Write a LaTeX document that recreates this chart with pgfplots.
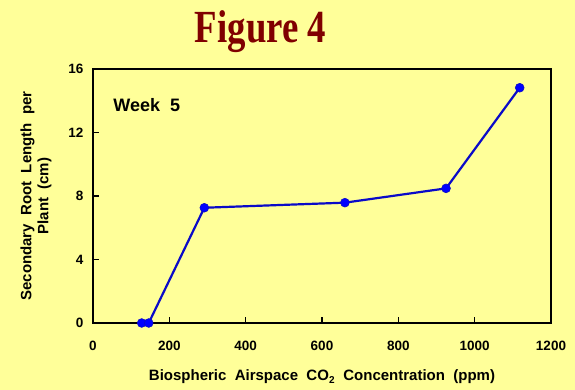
\documentclass[border=0pt]{standalone}
\usepackage{graphicx}
\usepackage{pgfplots}
\pgfplotsset{compat=1.18}
\usepackage{fontspec}
\setmainfont{Liberation Sans}
\newfontfamily\titlefont{Liberation Serif}
\definecolor{bgyellow}{RGB}{255,255,153}
\definecolor{titlered}{RGB}{128,0,0}
\definecolor{lineblue}{RGB}{10,10,200}
\begin{document}
\begin{tikzpicture}[x=1pt,y=1pt]
\fill[bgyellow] (0,0) rectangle (575,390);
\useasboundingbox (0,0) rectangle (575,390);
\node[anchor=base, text=titlered, inner sep=0pt] at (260.5,347.3) {\scalebox{0.8}[1]{\titlefont\fontsize{46}{50}\selectfont\bfseries Figure 4}};
\begin{axis}[
  at={(93pt,67pt)}, anchor=south west,
  scale only axis, width=458pt, height=254pt,
  xmin=0, xmax=1200, ymin=0, ymax=16,
  xtick={0,200,...,1200}, ytick={0,4,...,16},
  tick align=inside, xtick pos=bottom, ytick pos=left,
  major tick length=6pt,
  axis line style={line width=1.5pt},
  every tick/.style={black, line width=1.3pt},
  /pgf/number format/assume math mode=true,
  /pgf/number format/1000 sep={},
  ticklabel style={font=\fontsize{13.5}{16}\selectfont\bfseries},
  xticklabel style={yshift=-15pt},
  yticklabel style={xshift=-6pt},
  xlabel={Biospheric\ \ Airspace\ \ CO\textsubscript{\fontsize{10}{11}\selectfont 2}\ \ Concentration\ \ (ppm)},
  ylabel={Secondary\ \ Root\ \ Length\ \ per\\Plant\ \ (cm)},
  label style={font=\fontsize{15}{17}\selectfont\bfseries},
  xlabel style={at={(axis description cs:0.5,-0.2126)}, anchor=center},
  ylabel style={at={(axis description cs:-0.1245,0.5)}, anchor=center, align=center, rotate=0},
]
\addplot[lineblue, line width=2.2pt, mark=*, mark size=4.4pt, mark options={fill=blue, draw=lineblue, line width=0.6pt}] coordinates {
(127.5,0) (146,0) (291.7,7.26) (660,7.58) (925,8.48) (1118,14.82)
};
\node[anchor=west, font=\fontsize{18}{20}\selectfont\bfseries] at (rel axis cs:0.037,0.858) {Week\ \ 5};
\end{axis}
\end{tikzpicture}
\end{document}
